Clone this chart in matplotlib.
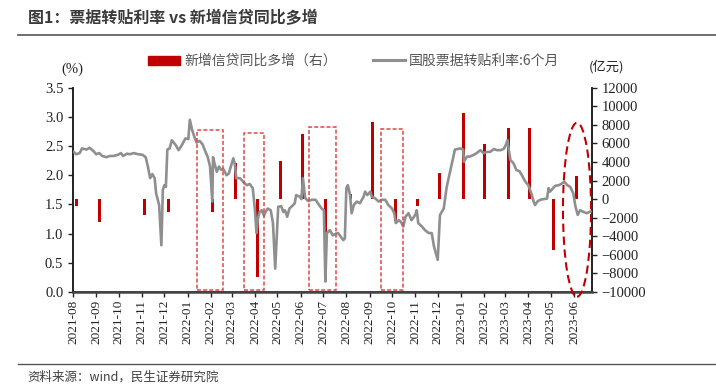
import numpy as np
import pandas as pd
import matplotlib
matplotlib.use('Agg')
import matplotlib.pyplot as plt
import matplotlib.dates as mdates
from matplotlib.patches import Rectangle, Ellipse, Patch
from matplotlib.lines import Line2D

# 国股票据转贴利率:6个月 (%)
rate_dates = [
    "2021-08-02", "2021-08-05", "2021-08-10", "2021-08-13", "2021-08-19", "2021-08-23", "2021-08-28",
    "2021-09-01", "2021-09-05", "2021-09-09", "2021-09-15", "2021-09-19", "2021-09-24", "2021-09-30",
    "2021-10-04", "2021-10-07", "2021-10-12", "2021-10-16", "2021-10-21", "2021-10-27",
    "2021-11-02", "2021-11-06", "2021-11-09", "2021-11-12", "2021-11-15", "2021-11-18", "2021-11-20",
    "2021-11-24", "2021-11-27", "2021-11-29", "2021-12-01", "2021-12-03", "2021-12-05", "2021-12-08",
    "2021-12-11", "2021-12-16", "2021-12-20", "2021-12-25", "2021-12-29",
    "2022-01-02", "2022-01-04", "2022-01-07", "2022-01-10", "2022-01-13", "2022-01-17", "2022-01-21",
    "2022-01-24", "2022-01-28", "2022-01-31", "2022-02-03", "2022-02-04", "2022-02-06", "2022-02-09",
    "2022-02-12", "2022-02-15", "2022-02-18", "2022-02-22", "2022-02-25", "2022-02-28",
    "2022-03-03", "2022-03-05", "2022-03-07", "2022-03-12", "2022-03-16", "2022-03-21", "2022-03-25",
    "2022-03-29", "2022-04-01", "2022-04-03", "2022-04-05", "2022-04-07", "2022-04-10", "2022-04-13",
    "2022-04-15", "2022-04-18", "2022-04-22", "2022-04-25", "2022-04-28",
    "2022-05-02", "2022-05-06", "2022-05-09", "2022-05-11", "2022-05-14", "2022-05-17", "2022-05-22",
    "2022-05-24", "2022-05-26", "2022-05-31", "2022-06-02", "2022-06-04", "2022-06-07", "2022-06-11",
    "2022-06-16", "2022-06-21", "2022-06-24", "2022-06-29", "2022-07-02", "2022-07-04", "2022-07-06",
    "2022-07-10", "2022-07-14", "2022-07-18", "2022-07-21", "2022-07-26", "2022-07-28", "2022-07-30",
    "2022-08-01", "2022-08-03", "2022-08-06", "2022-08-08", "2022-08-11", "2022-08-15", "2022-08-19",
    "2022-08-24", "2022-08-26", "2022-08-29", "2022-09-02", "2022-09-04", "2022-09-08", "2022-09-13",
    "2022-09-17", "2022-09-22", "2022-09-26", "2022-10-01", "2022-10-04", "2022-10-06", "2022-10-10",
    "2022-10-13", "2022-10-16", "2022-10-19", "2022-10-23", "2022-10-27", "2022-11-01", "2022-11-03",
    "2022-11-05", "2022-11-10", "2022-11-14", "2022-11-19", "2022-11-23", "2022-11-26", "2022-12-01",
    "2022-12-04", "2022-12-09", "2022-12-13", "2022-12-18", "2022-12-21", "2022-12-24", "2022-12-31",
    "2023-01-04", "2023-01-05", "2023-01-09", "2023-01-13", "2023-01-18", "2023-01-22", "2023-01-27",
    "2023-01-31", "2023-02-05", "2023-02-09", "2023-02-14", "2023-02-18", "2023-02-23", "2023-02-27",
    "2023-03-02", "2023-03-04", "2023-03-08", "2023-03-12", "2023-03-16", "2023-03-20", "2023-03-23",
    "2023-03-28", "2023-04-01", "2023-04-05", "2023-04-08", "2023-04-10", "2023-04-13", "2023-04-17",
    "2023-04-21", "2023-04-26", "2023-04-28", "2023-04-30", "2023-05-04", "2023-05-07", "2023-05-12",
    "2023-05-16", "2023-05-19", "2023-05-23", "2023-05-27", "2023-05-31", "2023-06-03", "2023-06-06",
    "2023-06-09", "2023-06-14", "2023-06-18", "2023-06-23",
]
rate_values = [
    2.40, 2.36, 2.38, 2.46, 2.44, 2.47, 2.42,
    2.36, 2.38, 2.33, 2.31, 2.33, 2.33, 2.35,
    2.38, 2.33, 2.37, 2.36, 2.38, 2.36,
    2.35, 2.31, 2.15, 1.95, 2.02, 1.95, 1.69,
    1.49, 0.80, 1.75, 1.83, 1.80, 2.44, 2.46,
    2.60, 2.52, 2.43, 2.53, 2.63,
    2.62, 2.95, 2.78, 2.66, 2.56, 2.59, 2.53,
    2.43, 2.31, 2.15, 1.55, 2.31, 2.20, 2.06,
    2.15, 2.09, 2.10, 2.00, 2.03, 2.16,
    2.29, 2.20, 1.95, 1.95, 1.89, 1.83, 1.85,
    1.78, 1.40, 1.01, 1.26, 1.37, 1.40, 1.31,
    1.37, 1.43, 1.40, 1.18, 0.40,
    1.46, 1.47, 1.37, 1.40, 1.29, 1.43, 1.49,
    1.52, 1.66, 1.63, 1.59, 1.95, 1.61, 1.56,
    1.58, 1.58, 1.52, 1.43, 1.40, 0.18, 1.01,
    1.06, 0.97, 1.00, 1.01, 0.92, 0.89, 0.92,
    1.78, 1.83, 1.66, 1.35, 1.49, 1.55, 1.52,
    1.63, 1.72, 1.66, 1.72, 1.63, 1.61, 1.55,
    1.58, 1.58, 1.49, 1.43, 1.35, 1.18, 1.23,
    1.20, 1.12, 1.29, 1.35, 1.23, 1.32, 1.40,
    1.18, 1.12, 1.06, 1.01, 1.01, 0.78, 0.55,
    1.32, 1.43, 1.80, 2.09, 2.26, 2.44, 2.46,
    2.44, 2.23, 2.32, 2.32, 2.35, 2.38, 2.43,
    2.38, 2.40, 2.40, 2.45, 2.43, 2.43, 2.45,
    2.52, 2.60, 2.26, 2.21, 2.09, 2.07, 2.01,
    1.89, 1.83, 1.69, 1.55, 1.49, 1.55, 1.58,
    1.59, 1.60, 1.78, 1.72, 1.78, 1.82, 1.83,
    1.86, 1.89, 1.83, 1.80, 1.69, 1.46, 1.32,
    1.40, 1.37, 1.35, 1.38,
]

# 新增信贷同比多增 (亿元), right axis
loan_dates = [
    "2021-08-06", "2021-09-05", "2021-11-05", "2021-12-06", "2022-02-03", "2022-03-06",
    "2022-04-04", "2022-05-05", "2022-06-04", "2022-07-04", "2022-08-06", "2022-09-05",
    "2022-10-05", "2022-11-04", "2022-12-04", "2023-01-05", "2023-02-02", "2023-03-05",
    "2023-04-02", "2023-05-05", "2023-06-04",
]
loan_values = [
    -700, -2500, -1700, -1400, -1400, 3900,
    -8400, 4100, 7000, -4000, 500, 8300,
    -2400, -700, 2800, 9300, 5900, 7700,
    7700, -5500, 2500,
]

# highlighted windows: (start, end, top on left axis)
boxes = [
    ("2022-01-13", "2022-02-17", 2.78),
    ("2022-03-17", "2022-04-13", 2.72),
    ("2022-06-12", "2022-07-18", 2.83),
    ("2022-09-16", "2022-10-16", 2.80),
]

cjk = ['Noto Sans CJK SC', 'DejaVu Sans']
serif = 'Liberation Serif'
red = '#c00000'
grey = '#8f8f8f'

fig = plt.figure(figsize=(7.16, 3.86), dpi=100)
ax = fig.add_axes([73 / 716, 1 - 292 / 386, (592 - 73) / 716, (292 - 87.7) / 386])
ax2 = ax.twinx()

rd = pd.to_datetime(rate_dates)
ld = pd.to_datetime(loan_dates)

ax2.bar(ld, loan_values, width=4, color=red, zorder=2)
ax.plot(rd, rate_values, color=grey, lw=1.9, zorder=3)

# line above the bars
ax.set_zorder(ax2.get_zorder() + 1)
ax.patch.set_visible(False)

for s, e, top in boxes:
    x0 = mdates.date2num(pd.Timestamp(s))
    x1 = mdates.date2num(pd.Timestamp(e))
    ax.add_patch(Rectangle((x0, 0.03), x1 - x0, top - 0.03, fill=False,
                           ec='#e04646', lw=1.1, ls=(0, (2.6, 1.4)), zorder=4))
ec = mdates.date2num(pd.Timestamp("2023-06-05"))
ax.add_patch(Ellipse((ec, 1.41), 37.5, 2.98, fill=False, ec=red, lw=1.5,
                     ls=(0, (4, 2.2)), zorder=4, clip_on=False))

ax.set_xlim(pd.Timestamp("2021-08-01"), pd.Timestamp("2023-06-25"))
ax.set_ylim(0, 3.5)
ax.set_yticks(np.arange(0, 3.51, 0.5))
ax.set_yticklabels(['%.1f' % v for v in np.arange(0, 3.51, 0.5)])
ax2.set_ylim(-10000, 12000)
ax2.set_yticks(np.arange(-10000, 12001, 2000))

months = pd.date_range("2021-08-01", "2023-06-01", freq='MS')
ax.set_xticks(months)
ax.set_xticklabels([m.strftime('%Y-%m') for m in months], rotation=90)

for a in (ax, ax2):
    a.spines['top'].set_visible(False)
    for sp in ('left', 'right', 'bottom'):
        a.spines[sp].set_color('#222222')
        a.spines[sp].set_linewidth(1.2)
    a.tick_params(direction='out', length=3.5, width=1, colors='#222222')
    for lab in a.get_yticklabels():
        lab.set_fontfamily(serif)
        lab.set_fontsize(10.5)
ax.spines['bottom'].set_linewidth(1.8)
ax.spines['bottom'].set_color('#444444')
for lab in ax.get_xticklabels():
    lab.set_fontfamily(serif)
    lab.set_fontsize(9.5)
ax.tick_params(axis='x', pad=2)

fig.text(72 / 716, 1 - 69 / 386, '(%)', fontfamily=serif, fontsize=10.5,
         ha='center', va='center', color='#222222')
fig.text(607 / 716, 1 - 67 / 386, '(亿元)', family=cjk, fontsize=9.5,
         ha='center', va='center', color='#222222')

handles = [Patch(color=red), Line2D([0], [0], color=grey, lw=2.2)]
fig.legend(handles, ['新增信贷同比多增（右）', '国股票据转贴利率:6个月'],
           loc='center left', bbox_to_anchor=(141 / 716, 1 - 61 / 386), ncol=2,
           frameon=False, borderpad=0, handlelength=2.3, handleheight=0.6,
           handletextpad=0.3, columnspacing=2.6,
           prop={'family': cjk, 'size': 10}, labelcolor='#555555')

fig.text(28 / 716, 1 - 18 / 386, '图1：票据转贴利率 vs 新增信贷同比多增', family=cjk,
         fontsize=11.5, fontweight='bold', color='#3a3a3a', ha='left', va='center')
fig.add_artist(Line2D([18 / 716, 1], [1 - 35 / 386] * 2, color='#555555', lw=1.2))
fig.add_artist(Line2D([18 / 716, 1], [1 - 364 / 386] * 2, color='#555555', lw=1.0))
fig.text(27 / 716, 1 - 377 / 386, '资料来源：wind，民生证券研究院', family=cjk,
         fontsize=9, color='#404040', ha='left', va='center')

fig.savefig('out.png', dpi=100)
